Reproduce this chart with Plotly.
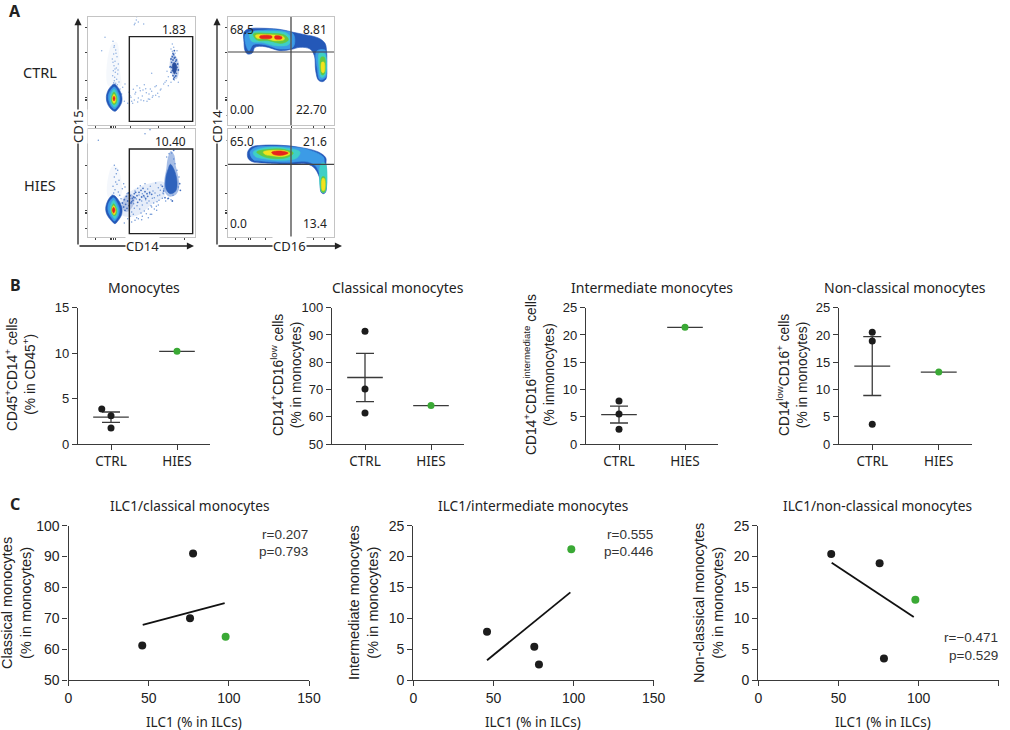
import plotly.graph_objects as go

W, H = 1010, 730
FIG_BG = "white"
INK = "#3a3a3a"
BLACK_DOT = "#1c1c1c"
GREEN_DOT = "#3aa935"
TEXT_SANS = "Noto Sans"
TEXT_NUM = "Liberation Sans"

# ---------- Panel B values ----------
GROUPS = ["CTRL", "HIES"]
B_TITLES = ["Monocytes", "Classical monocytes", "Intermediate monocytes", "Non-classical monocytes"]
B_YTITLES = [
    "CD45<sup>+</sup>CD14<sup>+</sup> cells<br>(% in CD45<sup>+</sup>)",
    "CD14<sup>+</sup>CD16<sup>low</sup> cells<br>(% in monocytes)",
    "CD14<sup>+</sup>CD16<sup>intermediate</sup> cells<br>(% inmonocytes)",
    "CD14<sup>low</sup>CD16<sup>+</sup> cells<br>(% in monocytes)",
]
B_RANGES = [(0, 15), (50, 100), (0, 25), (0, 25)]
B_TICKS = [[0, 5, 10, 15], [50, 60, 70, 80, 90, 100], [0, 5, 10, 15, 20, 25], [0, 5, 10, 15, 20, 25]]
B_CTRL = [[3.85, 3.1, 1.75], [91.4, 70.2, 61.4], [7.9, 5.5, 2.7], [20.5, 18.9, 3.6]]
B_CTRL_JITTER = [[-0.14, 0, 0], [0, 0, 0], [0, 0, 0], [0, 0, 0]]
B_MEAN = [2.95, 74.4, 5.4, 14.3]
B_SEM = [0.57, 8.85, 1.55, 5.4]
B_HIES = [10.2, 64.1, 21.4, 13.2]

# ---------- Panel C values ----------
C_TITLES = ["ILC1/classical monocytes", "ILC1/intermediate monocytes", "ILC1/non-classical monocytes"]
C_YTITLES = [
    "Classical monocytes<br>(% in monocytes)",
    "Intermediate monocytes<br>(% in monocytes)",
    "Non-classical monocytes<br>(% in monocytes)",
]
C_XTITLE = "ILC1 (% in ILCs)"
C_XTICKS = [0, 50, 100, 150]
C_RANGES = [(50, 100), (0, 25), (0, 25)]
C_YTICKS = [[50, 60, 70, 80, 90, 100], [0, 5, 10, 15, 20, 25], [0, 5, 10, 15, 20, 25]]
C_X = [[46, 75.8, 77.7], [46, 75.5, 78.4], [45.5, 75.7, 78.4]]
C_Y = [[61.2, 70, 91], [7.8, 5.4, 2.5], [20.4, 18.9, 3.5]]
C_GX = [98, 98.6, 98]
C_GY = [64, 21.2, 13]
C_FIT_X = [[46.3, 97.4], [46, 98], [45.8, 97]]
C_FIT_Y = [[67.9, 74.9], [3.2, 14.2], [19, 10.2]]
C_R = ["r=0.207", "r=0.555", "r=−0.471"]
C_P = ["p=0.793", "p=0.446", "p=0.529"]

# ---------- Panel A: outlines and events ----------
DENSITY_COLORS = ["#2458b8", "#3c9be6", "#3fcfc6", "#63c943", "#f3e21e", "#e6231d"]

# CTRL CD14/CD15
A1_BLOB = [
    [[88, 210], [100, 222], [110, 245], [110, 265], [100, 283], [90, 292], [78, 285], [67, 268], [64, 248], [70, 228], [80, 215]],
    [[88, 219], [98, 232], [104, 250], [102, 268], [94, 281], [88, 285], [78, 276], [72, 262], [70, 246], [76, 230]],
    [[87, 226], [96, 238], [100, 255], [97, 270], [89, 279], [80, 270], [75, 255], [78, 238]],
    [[87, 234], [94, 246], [96, 258], [91, 270], [85, 271], [79, 258], [81, 244]],
    [[87, 241], [92, 250], [92, 260], [87, 268], [82, 258], [83, 248]],
    [[87, 247], [90, 253], [87, 261], [84, 253]],
]
A1_CLUSTER = [[262, 120], [274, 128], [282, 150], [282, 175], [274, 196], [262, 184], [254, 155]]
A1_CORE = [[266, 146], [272, 148], [275, 165], [268, 180], [263, 168], [262, 154]]
A1_TAIL = [[80, 90], [95, 85], [106, 180], [108, 215], [70, 215]]
A1_EVX = [84, 88, 92, 86, 96, 82, 90, 100, 87, 94, 85, 91, 98, 83, 89, 95, 88, 102, 86, 92, 97, 90, 84, 99, 93, 87, 105, 110, 113, 118,
          132, 138, 145, 150, 156, 160, 166, 172, 178, 184, 190, 196, 204, 210, 218, 226, 140, 148, 158, 168, 176, 186, 194, 202, 212, 222,
          135, 143, 152, 164, 174, 182, 192, 200, 214, 228, 236, 244, 250, 246, 240, 254, 258, 262, 266, 270, 276, 258, 280, 268, 250, 262,
          274, 154, 176, 200, 150, 60, 50, 120, 128, 155, 160, 148]
A1_EVY = [82, 95, 108, 120, 128, 135, 142, 150, 155, 162, 170, 175, 180, 185, 190, 196, 200, 204, 206, 208, 212, 165, 145, 168, 118, 100, 225, 240, 220, 262,
          235, 250, 226, 240, 215, 252, 230, 246, 212, 236, 255, 225, 245, 218, 238, 228, 262, 258, 264, 258, 260, 262, 256, 250, 244, 248,
          245, 268, 235, 222, 228, 224, 240, 232, 215, 225, 210, 200, 188, 172, 205, 160, 105, 112, 100, 118, 110, 205, 205, 198, 215, 90,
          185, 18, 30, 178, 28, 70, 110, 210, 268, 8, 24, 32]
A1_DENSE_X = [258, 262, 266, 270, 274, 278, 260, 264, 268, 272, 276, 256, 262, 266, 270, 274, 280, 258, 264, 268, 272, 260, 266, 270, 264, 268]
A1_DENSE_Y = [135, 128, 122, 130, 138, 150, 145, 138, 132, 142, 160, 158, 170, 152, 172, 178, 168, 175, 185, 190, 186, 160, 195, 160, 118, 110]

# HIES CD14/CD15
A2_BLOB = [
    [[86, 205], [98, 216], [110, 240], [110, 262], [100, 280], [90, 290], [80, 282], [67, 265], [62, 245], [68, 222], [78, 208]],
    [[86, 212], [95, 225], [103, 245], [101, 264], [93, 278], [88, 282], [78, 270], [70, 254], [69, 236], [76, 220]],
    [[86, 220], [95, 236], [99, 250], [96, 266], [89, 275], [80, 262], [75, 248], [78, 232]],
    [[86, 230], [93, 242], [95, 252], [91, 265], [84, 264], [79, 250], [81, 238]],
    [[86, 236], [91, 245], [92, 254], [87, 263], [81, 252], [82, 242]],
    [[86, 241], [90, 249], [86, 258], [82, 249]],
]
A2_CLOUD = [[100, 235], [120, 205], [150, 185], [190, 170], [236, 165], [238, 208], [200, 232], [165, 262], [130, 270], [108, 262]]
A2_TAIL = [[80, 120], [96, 120], [108, 205], [70, 210]]
A2_CLUSTER = [[258, 72], [268, 85], [272, 115], [280, 150], [282, 185], [270, 205], [250, 208], [238, 190], [238, 160], [244, 125], [248, 95]]
A2_CORE = [[256, 112], [268, 130], [276, 165], [272, 192], [256, 200], [243, 185], [243, 150], [250, 125]]
A2_KNOT = [[118, 212], [135, 200], [148, 210], [142, 240], [125, 255], [112, 245]]
A2_EVX = [88, 92, 84, 96, 90, 100, 86, 94, 104, 82, 98, 108, 112, 80, 116, 92, 102, 88, 120, 126,
          150, 158, 166, 172, 180, 188, 196, 204, 212, 220, 228, 236, 146, 154, 162, 170, 178, 186, 194, 202, 210, 218, 226, 234,
          140, 148, 156, 164, 172, 182, 192, 200, 208, 216, 224, 232, 135, 145, 155, 168, 178, 190, 198, 206, 214, 222,
          150, 160, 172, 184, 196, 208, 220, 245, 252, 260, 266, 248, 258, 264, 242, 270, 276, 280, 235, 282, 128, 140, 170, 190, 118, 200, 215, 40, 180, 195]
A2_EVY = [150, 165, 178, 172, 188, 195, 198, 140, 205, 205, 130, 215, 185, 210, 170, 125, 160, 115, 180, 200,
          192, 184, 176, 200, 170, 186, 178, 192, 168, 182, 174, 186, 230, 216, 204, 222, 210, 228, 200, 214, 198, 206, 190, 198,
          255, 244, 236, 246, 234, 218, 222, 240, 212, 224, 204, 214, 268, 262, 272, 258, 252, 246, 236, 228, 238, 220,
          280, 275, 268, 260, 262, 246, 234, 90, 80, 78, 96, 215, 218, 205, 222, 110, 130, 180, 200, 150, 275, 285, 278, 272, 288, 262, 250, 40, 20, 8]
A2_DENSE_X = [112, 118, 124, 130, 136, 142, 148, 116, 122, 128, 134, 140, 146, 152, 120, 126, 132, 138, 144, 150, 156, 162, 168,
              174, 180, 186, 158, 164, 170, 176, 182, 188, 194, 200, 232, 236, 240, 284, 286, 250, 262, 266]
A2_DENSE_Y = [228, 218, 208, 198, 206, 214, 200, 240, 232, 222, 214, 224, 210, 196, 250, 244, 236, 228, 220, 212, 206, 196, 190,
              184, 194, 200, 226, 218, 210, 206, 214, 208, 196, 202, 178, 192, 212, 170, 190, 214, 222, 70]

# CTRL CD16/CD14: left lobe and right arm per density level
A3_LEVELS = [
    [[[57, 55], [70, 45], [120, 43], [170, 47], [205, 55], [240, 62], [280, 72], [300, 88], [305, 115], [305, 160], [303, 195], [292, 203], [280, 198], [272, 170], [268, 125], [255, 105], [225, 100], [200, 106], [165, 110], [120, 98], [90, 100], [82, 117], [68, 120], [60, 110], [57, 85]]],
    [[[62, 60], [120, 48], [175, 50], [205, 60], [205, 98], [165, 105], [120, 92], [85, 92], [72, 110], [65, 100]],
     [[275, 112], [300, 108], [303, 130], [302, 190], [285, 197], [277, 165]]],
    [[[75, 58], [130, 52], [185, 58], [198, 75], [190, 92], [150, 95], [110, 85], [80, 82]],
     [[283, 118], [300, 120], [300, 185], [288, 190], [282, 160]]],
    [[[85, 60], [130, 58], [180, 64], [190, 78], [170, 88], [130, 80], [95, 78]],
     [[288, 130], [298, 130], [298, 180], [290, 182]]],
    [[[92, 64], [130, 62], [175, 68], [178, 76], [150, 80], [125, 74], [95, 72]],
     [[290, 145], [297, 145], [297, 175], [291, 175]]],
    [[[105, 66], [140, 66], [140, 72], [105, 72]],
     [[150, 66], [170, 68], [170, 74], [150, 74]]],
]

# HIES CD16/CD14
A4_LEVELS = [
    [[[68, 75], [80, 60], [110, 55], [170, 55], [230, 62], [280, 75], [302, 92], [303, 110], [302, 195], [295, 200], [288, 195], [283, 150], [265, 120], [240, 110], [190, 112], [120, 108], [85, 105], [70, 95]]],
    [[[75, 75], [90, 62], [130, 58], [200, 60], [250, 68], [295, 90], [298, 108], [300, 195], [290, 195], [286, 150], [270, 115], [240, 103], [190, 106], [110, 102], [85, 98]]],
    [[[85, 75], [120, 62], [180, 63], [225, 75], [215, 93], [170, 100], [115, 95], [90, 88]],
     [[288, 110], [301, 110], [300, 195], [290, 195]]],
    [[[95, 75], [130, 67], [175, 67], [205, 78], [190, 90], [160, 95], [120, 90]],
     [[291, 150], [299, 150], [299, 195], [291, 195]]],
    [[[115, 75], [145, 70], [185, 73], [195, 80], [175, 88], [140, 86], [120, 82]],
     [[292, 155], [298, 155], [298, 190], [292, 190]]],
    [[[140, 76], [165, 72], [190, 78], [170, 85], [145, 82]]],
]

A1_GATE = [133, 323, 68, 322]
A2_GATE = [133, 323, 66, 320]
A3_QUAD = [198, 114]
A4_QUAD = [198, 112]
A_LEFT_XT = [30, 75, 80, 85, 90, 135, 220, 298]
A_LEFT_YT = [40, 115, 200, 250, 255, 260, 305]
A_RIGHT_XT = [30, 70, 75, 120, 198, 265, 298]
A_RIGHT_YT = [40, 115, 200, 250, 255, 260, 305]

fig = go.Figure()
layout = {}
annos = []
shapes = []
axn = [0]


def xp(px):
    return px / W


def yp(py):
    return 1 - py / H


def new_axes(box, xcfg, ycfg):
    axn[0] += 1
    n = axn[0]
    sx = "" if n == 1 else str(n)
    x0, x1, y0, y1 = box
    layout["xaxis" + sx] = dict(domain=[xp(x0), xp(x1)], anchor="y" + sx, **xcfg)
    layout["yaxis" + sx] = dict(domain=[yp(y1), yp(y0)], anchor="x" + sx, **ycfg)
    return "x" + sx, "y" + sx


def label(text, x, y, size=13, font=TEXT_SANS, color="#222", angle=0, xanchor="center", yanchor="middle", bg=None, weight=None):
    annos.append(dict(
        text=text, x=xp(x), y=yp(y), xref="paper", yref="paper", showarrow=False,
        font=dict(size=size, family=font, color=color, weight=weight) if weight else dict(size=size, family=font, color=color),
        textangle=angle, xanchor=xanchor, yanchor=yanchor, bgcolor=bg, borderpad=0,
    ))


def poly(xa, ya, pts, color, smooth=True, width=0.6):
    xs = [p[0] for p in pts] + [pts[0][0]]
    ys = [p[1] for p in pts] + [pts[0][1]]
    fig.add_trace(go.Scatter(
        x=xs, y=ys, xaxis=xa, yaxis=ya, mode="lines", fill="toself", fillcolor=color,
        line=dict(color=color, width=width, shape="spline" if smooth else "linear", smoothing=1.0),
        hoverinfo="skip", showlegend=False,
    ))


def flow_axes(box, xr, yr, xt, yt):
    base = dict(showgrid=False, zeroline=False, showline=True, linecolor="#c4c4c4", linewidth=1, mirror=True,
                ticks="outside", ticklen=2, tickwidth=1, tickcolor="#444", showticklabels=False)
    return new_axes(box, dict(range=xr, tickvals=xt, **base), dict(range=yr, tickvals=yt, **base))


def rect(xa, ya, x0, x1, y0, y1):
    shapes.append(dict(type="rect", xref=xa, yref=ya, x0=x0, x1=x1, y0=y0, y1=y1,
                       line=dict(color="#222", width=1.4), layer="above"))


def quad(xa, ya, vx, hy, xr, yr):
    shapes.append(dict(type="line", xref=xa, yref=ya, x0=vx, x1=vx, y0=yr[0], y1=yr[1],
                       line=dict(color="#555", width=1.4), layer="above"))
    shapes.append(dict(type="line", xref=xa, yref=ya, x0=xr[0], x1=xr[1], y0=hy, y1=hy,
                       line=dict(color="#444", width=1.2), layer="above"))


def events(xa, ya, xs, ys, color="#8fb0e0", size=1.5):
    fig.add_trace(go.Scatter(x=xs, y=ys, xaxis=xa, yaxis=ya, mode="markers",
                             marker=dict(size=size, color=color, line=dict(width=0)),
                             hoverinfo="skip", showlegend=False))


# ---- Panel A plots ----
XR_L = [9, 330]
XR_R = [9, 327]
YR_T = [333, 9]
YR_B = [330, 6]

# A1
xa, ya = flow_axes((88, 195, 17, 125), XR_L, YR_T, A_LEFT_XT, A_LEFT_YT)
poly(xa, ya, A1_TAIL, "rgba(175,200,235,0.13)", width=0)
events(xa, ya, A1_EVX, A1_EVY)
poly(xa, ya, A1_CLUSTER, "rgba(95,135,205,0.35)", width=0)
events(xa, ya, A1_DENSE_X, A1_DENSE_Y, color="#3d68b8", size=1.8)
poly(xa, ya, A1_CORE, "#2a4f9e")
for lvl, c in zip(A1_BLOB, DENSITY_COLORS):
    poly(xa, ya, lvl, c)
rect(xa, ya, A1_GATE[0], A1_GATE[1], A1_GATE[2], A1_GATE[3])

# A2
xa, ya = flow_axes((88, 195, 129, 237), XR_L, YR_B, A_LEFT_XT, A_LEFT_YT)
poly(xa, ya, A2_CLOUD, "rgba(130,165,225,0.2)", width=0)
poly(xa, ya, A2_TAIL, "rgba(175,200,235,0.14)", width=0)
events(xa, ya, A2_EVX, A2_EVY, color="#6f97d6")
events(xa, ya, A2_DENSE_X, A2_DENSE_Y, color="#4873c2", size=1.8)
poly(xa, ya, A2_KNOT, "rgba(70,110,190,0.32)", width=0)
poly(xa, ya, A2_CLUSTER, "rgba(80,125,205,0.5)", width=0)
poly(xa, ya, A2_CORE, "#2e62bc")
for lvl, c in zip(A2_BLOB, DENSITY_COLORS):
    poly(xa, ya, lvl, c)
rect(xa, ya, A2_GATE[0], A2_GATE[1], A2_GATE[2], A2_GATE[3])

# A3
xa, ya = flow_axes((228, 334, 17, 125), XR_R, YR_T, A_RIGHT_XT, A_RIGHT_YT)
for lvl, c in zip(A3_LEVELS, DENSITY_COLORS):
    for part in lvl:
        poly(xa, ya, part, c)
quad(xa, ya, A3_QUAD[0], A3_QUAD[1], XR_R, YR_T)

# A4
xa, ya = flow_axes((228, 334, 129, 237), XR_R, YR_B, A_RIGHT_XT, A_RIGHT_YT)
for lvl, c in zip(A4_LEVELS, DENSITY_COLORS):
    for part in lvl:
        poly(xa, ya, part, c)
quad(xa, ya, A4_QUAD[0], A4_QUAD[1], XR_R, YR_B)

# Arrows framing panel A
for (x0, y0, x1, y1) in [(78, 246, 78, 18), (78, 246, 194, 246), (217, 246, 217, 18), (217, 246, 342, 246)]:
    annos.append(dict(x=xp(x1), y=yp(y1), ax=x0 - x1, ay=y0 - y1, xref="paper", yref="paper", axref="pixel", ayref="pixel",
                      showarrow=True, arrowhead=2, arrowsize=1.1, arrowwidth=1.3, arrowcolor="#222", text="", standoff=0))

label("CD15", 78, 127, size=13, angle=-90, bg="white")
label("CD14", 142, 246, size=13, bg="white")
label("CD14", 217, 127, size=13, angle=-90, bg="white")
label("CD16", 289, 246, size=13, bg="white")
label("CTRL", 40, 72, size=14.5)
label("HIES", 40, 185, size=14.5)
label("1.83", 187, 30, size=12, xanchor="right")
label("10.40", 187, 142, size=12, xanchor="right")
label("68.5", 229, 30, size=12, xanchor="left")
label("8.81", 328, 30, size=12, xanchor="right")
label("0.00", 229, 110, size=12, xanchor="left")
label("22.70", 328, 110, size=12, xanchor="right")
label("65.0", 229, 142, size=12, xanchor="left")
label("21.6", 328, 142, size=12, xanchor="right")
label("0.0", 229, 223, size=12, xanchor="left")
label("13.4", 328, 223, size=12, xanchor="right")
label("A", 15, 11, size=16, weight=700)
label("B", 15, 285, size=16, weight=700)
label("C", 15, 504, size=16, weight=700)

# ---- Panel B ----
B_BOXES = [(78, 210), (332, 464), (586, 718), (839, 972)]
B_TCX = [144, 398, 652, 905]
B_YTX = [20, 286, 539, 792]
for i, (x0, x1) in enumerate(B_BOXES):
    common = dict(showgrid=False, zeroline=False, showline=True, linecolor=INK, linewidth=1.4,
                  ticks="outside", tickcolor=INK, tickwidth=1.4, ticklen=5)
    xa, ya = new_axes(
        (x0, x1, 307.7, 444),
        dict(range=[-0.5, 1.5], tickvals=[0, 1], ticktext=GROUPS, tickfont=dict(family=TEXT_SANS, size=13.5, color="#222"), **common),
        dict(range=list(B_RANGES[i]), tickvals=B_TICKS[i], tickfont=dict(family=TEXT_NUM, size=13, color="#222"), **common),
    )
    # CTRL mean +/- SEM
    fig.add_trace(go.Scatter(
        x=[0], y=[B_MEAN[i]], xaxis=xa, yaxis=ya, mode="markers", marker=dict(size=1, color=INK),
        error_y=dict(type="data", array=[B_SEM[i]], color=INK, thickness=1.3, width=9),
        error_x=dict(type="constant", value=0.27, color=INK, thickness=1.3, width=0),
        hoverinfo="skip", showlegend=False))
    fig.add_trace(go.Scatter(
        x=[0 + j for j in B_CTRL_JITTER[i]], y=B_CTRL[i], xaxis=xa, yaxis=ya, mode="markers",
        marker=dict(size=7, color=BLACK_DOT), showlegend=False))
    fig.add_trace(go.Scatter(
        x=[1], y=[B_HIES[i]], xaxis=xa, yaxis=ya, mode="markers",
        marker=dict(size=7, color=GREEN_DOT),
        error_x=dict(type="constant", value=0.27, color=INK, thickness=1.3, width=0),
        showlegend=False))
    label(B_TITLES[i], B_TCX[i], 288, size=14)
    label(B_YTITLES[i], B_YTX[i], 375, size=13.8, font=TEXT_NUM, angle=-90)

# ---- Panel C ----
C_BOXES = [(68.5, 309), (413.3, 653.7), (758.3, 998.7)]
C_TCX = [189, 533, 877]
C_XTX = [194, 533, 883]
C_YTX = [16, 363, 708]
C_RP_Y = [(534, 551), (534, 551), (637, 655)]
for i, (x0, x1) in enumerate(C_BOXES):
    common = dict(showgrid=False, zeroline=False, showline=True, linecolor=INK, linewidth=1.4,
                  ticks="outside", tickcolor=INK, tickwidth=1.4, ticklen=5,
                  tickfont=dict(family=TEXT_NUM, size=14, color="#222"))
    xa, ya = new_axes(
        (x0, x1, 525.7, 680),
        dict(range=[0, 150], tickvals=C_XTICKS, **common),
        dict(range=list(C_RANGES[i]), tickvals=C_YTICKS[i], **common),
    )
    fig.add_trace(go.Scatter(x=C_FIT_X[i], y=C_FIT_Y[i], xaxis=xa, yaxis=ya, mode="lines",
                             line=dict(color="#111", width=1.8), showlegend=False))
    fig.add_trace(go.Scatter(x=C_X[i], y=C_Y[i], xaxis=xa, yaxis=ya, mode="markers",
                             marker=dict(size=8, color=BLACK_DOT), showlegend=False))
    fig.add_trace(go.Scatter(x=[C_GX[i]], y=[C_GY[i]], xaxis=xa, yaxis=ya, mode="markers",
                             marker=dict(size=8, color=GREEN_DOT), showlegend=False))
    label(C_TITLES[i], C_TCX[i], 505, size=13.7)
    label(C_XTITLE, C_XTX[i], 722, size=13.5)
    label(C_YTITLES[i], C_YTX[i], 603, size=14.5, font=TEXT_NUM, angle=-90)
    label(C_R[i], x1, C_RP_Y[i][0], size=13.5, font=TEXT_NUM, xanchor="right", color="#333")
    label(C_P[i], x1, C_RP_Y[i][1], size=13.5, font=TEXT_NUM, xanchor="right", color="#333")

fig.update_layout(
    width=W, height=H, margin=dict(l=0, r=0, t=0, b=0, autoexpand=False), paper_bgcolor=FIG_BG, plot_bgcolor=FIG_BG,
    autosize=False, showlegend=False, annotations=annos, shapes=shapes, hovermode=False, **layout,
)
fig.write_html("out.html", config=dict(displayModeBar=False),
               post_script="document.body.style.margin='0';")
